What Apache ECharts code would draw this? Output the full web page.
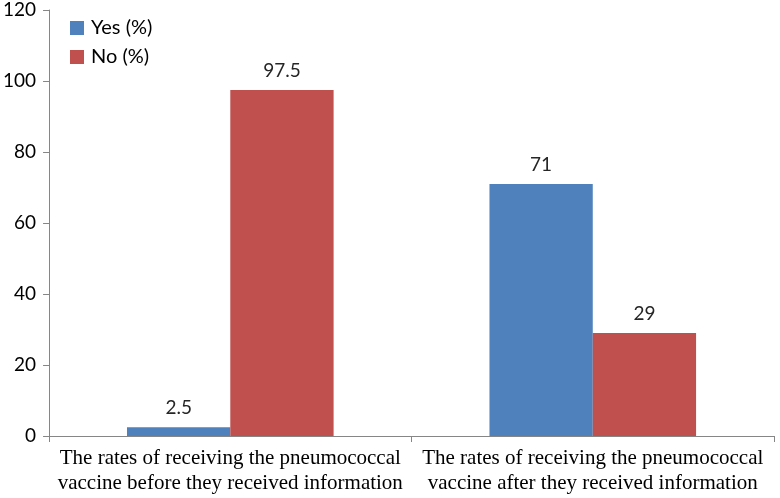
<!DOCTYPE html>
<html>
<head>
<meta charset="utf-8">
<script src="https://cdn.jsdelivr.net/npm/echarts@6/dist/echarts.min.js"></script>
<style>html,body{margin:0;padding:0;background:#fff;}#c{width:780px;height:498px;}</style>
</head>
<body>
<div id="c"></div>
<script>
const categories = [
  "The rates of receiving the pneumococcal\nvaccine before they received information",
  "The rates of receiving the pneumococcal\nvaccine after they received information"
];
const yesValues = [2.5, 71];
const noValues = [97.5, 29];
const seriesNames = ["Yes (%)", "No (%)"];
const yTicks = [0, 20, 40, 60, 80, 100, 120];

const chart = echarts.init(document.getElementById('c'), null, {renderer: 'canvas'});
const labelStyle = {show: true, position: 'top', distance: 10, fontFamily: 'Lato', fontSize: 19, color: '#262626'};
chart.setOption({
  animation: false,
  backgroundColor: '#ffffff',
  grid: {left: 45, right: 6, top: 10, bottom: 62, containLabel: false},
  legend: {
    orient: 'vertical', left: 65, top: 13, itemGap: 9,
    itemWidth: 14, itemHeight: 14, icon: 'rect',
    textStyle: {fontFamily: 'Lato', fontSize: 20, lineHeight: 20, color: '#000', padding: [0, 0, 0, 2]},
    data: seriesNames
  },
  xAxis: {
    type: 'category', data: categories,
    axisLine: {lineStyle: {color: '#868686', width: 1}},
    axisTick: {show: true, length: 6, alignWithLabel: false, lineStyle: {color: '#868686'}},
    axisLabel: {fontFamily: 'Liberation Serif', fontSize: 21, color: '#000', lineHeight: 25, margin: 10, interval: 0}
  },
  yAxis: {
    type: 'value', min: yTicks[0], max: yTicks[yTicks.length - 1], interval: 20,
    splitLine: {show: false},
    axisLine: {show: true, lineStyle: {color: '#868686', width: 1}},
    axisTick: {show: true, length: 6, lineStyle: {color: '#868686'}},
    axisLabel: {fontFamily: 'Lato', fontSize: 19, color: '#000', margin: 13}
  },
  series: [
    {name: seriesNames[0], type: 'bar', data: yesValues, barGap: '0%', barCategoryGap: '43%',
     itemStyle: {color: '#4F81BD'}, label: labelStyle},
    {name: seriesNames[1], type: 'bar', data: noValues, barGap: '0%', barCategoryGap: '43%',
     itemStyle: {color: '#C0504D'}, label: labelStyle}
  ]
});
</script>
</body>
</html>
